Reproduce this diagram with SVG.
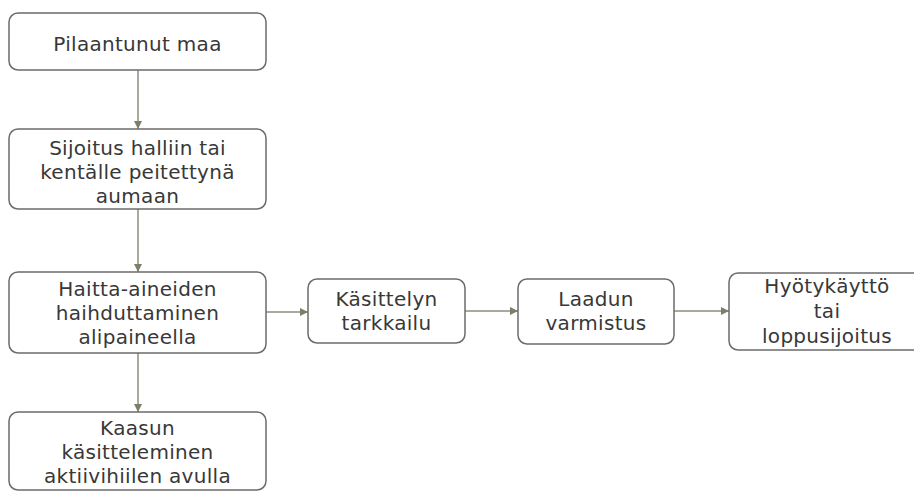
<svg xmlns="http://www.w3.org/2000/svg" width="914" height="491" viewBox="0 0 914 491">
<style>
.box{fill:#fff;stroke:#6b6b6b;stroke-width:1.5}
.t{font-family:"DejaVu Sans",Verdana,sans-serif;font-size:20px;letter-spacing:0.3px;fill:#383838;text-anchor:middle}
.c{fill:none;stroke:#8c8c7c;stroke-width:1.5}
</style>
<defs>
<marker id="ah" viewBox="0 0 8 8" refX="8" refY="4" markerWidth="8" markerHeight="8" markerUnits="userSpaceOnUse" orient="auto">
<path d="M0,0 L8,4 L0,8 Z" fill="#7d7d68"/>
</marker>
</defs>
<rect width="914" height="491" fill="#fff"/>
<g id="connectors">
<line class="c" x1="138" y1="70" x2="138" y2="129" marker-end="url(#ah)"/>
<line class="c" x1="138" y1="209" x2="138" y2="272" marker-end="url(#ah)"/>
<line class="c" x1="138" y1="353" x2="138" y2="412" marker-end="url(#ah)"/>
<line class="c" x1="266" y1="312" x2="308" y2="312" marker-end="url(#ah)"/>
<line class="c" x1="465" y1="311" x2="518" y2="311" marker-end="url(#ah)"/>
<line class="c" x1="674" y1="311" x2="729" y2="311" marker-end="url(#ah)"/>
</g>
<g id="n1">
<rect class="box" x="9" y="13" width="257" height="57" rx="9"/>
<text class="t" x="137.5" y="51">Pilaantunut maa</text>
</g>
<g id="n2">
<rect class="box" x="9" y="129" width="257" height="80" rx="9"/>
<text class="t" x="137.5" y="155">Sijoitus halliin tai</text>
<text class="t" x="137.5" y="179">kentälle peitettynä</text>
<text class="t" x="137.5" y="203">aumaan</text>
</g>
<g id="n3">
<rect class="box" x="9" y="272" width="257" height="81" rx="9"/>
<text class="t" x="137.5" y="296">Haitta-aineiden</text>
<text class="t" x="137.5" y="320">haihduttaminen</text>
<text class="t" x="137.5" y="344">alipaineella</text>
</g>
<g id="n4">
<rect class="box" x="9" y="412" width="257" height="78" rx="9"/>
<text class="t" x="137.5" y="435">Kaasun</text>
<text class="t" x="137.5" y="459">käsitteleminen</text>
<text class="t" x="137.5" y="483">aktiivihiilen avulla</text>
</g>
<g id="n5">
<rect class="box" x="308" y="279" width="157" height="64" rx="9"/>
<text class="t" x="386.5" y="306">Käsittelyn</text>
<text class="t" x="386.5" y="330">tarkkailu</text>
</g>
<g id="n6">
<rect class="box" x="518" y="279" width="156" height="65" rx="9"/>
<text class="t" x="596" y="306">Laadun</text>
<text class="t" x="596" y="330">varmistus</text>
</g>
<g id="n7">
<rect class="box" x="729" y="273" width="196" height="77" rx="9"/>
<text class="t" x="827" y="293">Hyötykäyttö</text>
<text class="t" x="827" y="318">tai</text>
<text class="t" x="827" y="343">loppusijoitus</text>
</g>
</svg>
